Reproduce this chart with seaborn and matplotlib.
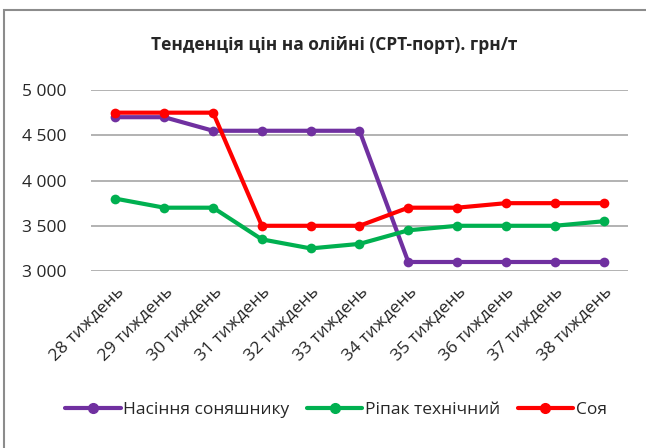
import matplotlib
matplotlib.use("Agg")
import matplotlib.pyplot as plt
import seaborn as sns
import pandas as pd
from matplotlib.patches import Rectangle

weeks = ["28 тиждень", "29 тиждень", "30 тиждень", "31 тиждень", "32 тиждень",
         "33 тиждень", "34 тиждень", "35 тиждень", "36 тиждень", "37 тиждень",
         "38 тиждень"]
sunflower = [4700, 4700, 4550, 4550, 4550, 4550, 3100, 3100, 3100, 3100, 3100]
rapeseed = [3800, 3700, 3700, 3350, 3250, 3300, 3450, 3500, 3500, 3500, 3550]
soy = [4750, 4750, 4750, 3500, 3500, 3500, 3700, 3700, 3750, 3750, 3750]
series_names = ["Насіння соняшнику", "Ріпак технічний", "Соя"]
colors = ["#7030A0", "#00B050", "#FF0000"]
y_ticks = [3000, 3500, 4000, 4500, 5000]
title = "Тенденція цін на олійні (CPT-порт). грн/т"

sns.set_style("white")
plt.rcParams['font.family'] = ['Open Sans', 'DejaVu Sans']

rows = []
for name, vals in zip(series_names, [sunflower, rapeseed, soy]):
    for i, v in enumerate(vals):
        rows.append({"idx": i, "price": v, "series": name})
df = pd.DataFrame(rows)

fig = plt.figure(figsize=(6.46, 4.48), dpi=100)
ax = fig.add_axes([0.141, 0.395, 0.831, 0.404])

sns.lineplot(data=df, x="idx", y="price", hue="series", hue_order=series_names,
             palette=colors, marker="o", markersize=7, markeredgewidth=0,
             linewidth=3, sort=False, ax=ax, legend=False)

ax.set_xlim(-0.5, len(weeks) - 0.5)
ax.set_ylim(3000, 5000)
ax.set_yticks(y_ticks)
ax.set_yticklabels([f"{t:,}".replace(",", " ") for t in y_ticks], fontsize=12.5)
ax.set_xticks(range(len(weeks)))
ax.set_xticklabels(weeks, rotation=45, ha="right", rotation_mode="anchor", fontsize=12.5)
ax.tick_params(axis="x", length=0, pad=9)
ax.tick_params(axis="y", length=0, pad=18)
ax.set_xlabel("")
ax.set_ylabel("")
ax.grid(axis="y", color="#A6A6A6", linewidth=1.2)
ax.set_axisbelow(True)
for s in ["top", "right", "left", "bottom"]:
    ax.spines[s].set_visible(False)

fig.text(0.518, 0.9, title, ha="center", va="center", fontsize=12.5, fontweight="bold")

handles = [plt.Line2D([0], [0], color=c, linewidth=3, marker="o", markersize=7)
           for c in colors]
fig.legend(handles, series_names, loc="center", bbox_to_anchor=(0.52, 0.085),
           ncol=3, frameon=False, fontsize=12.5, handlelength=3.2,
           handletextpad=0.15, columnspacing=1.0)

fig.patches.append(Rectangle((0.006, -0.01), 1.0, 0.988, transform=fig.transFigure,
                             fill=False, edgecolor="#8C8C8C", linewidth=1.5))

fig.savefig("out.png", dpi=100)
